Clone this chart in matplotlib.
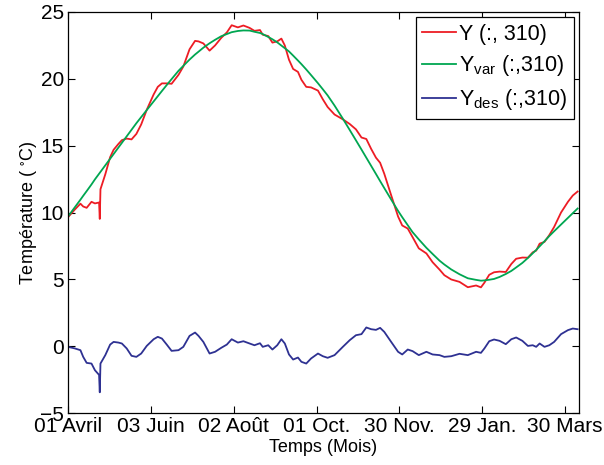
import matplotlib
matplotlib.use('Agg')
import matplotlib.pyplot as plt

plt.rcParams['font.family'] = ['Liberation Sans', 'DejaVu Sans']
plt.rcParams['mathtext.default'] = 'regular'

# Jour depuis le 01 Avril
days = [0, 5, 9, 11, 13.5, 17, 19.5, 22.5, 23, 23.5, 27, 30.5, 33, 36.5, 39, 42.5,
        46, 49.5, 53, 57, 62, 65, 68, 71.5, 75, 80, 83.5, 88, 92, 94.5, 98, 102.5,
        106.5, 111, 115, 118.5, 123, 127, 131.5, 135, 139, 141, 145, 148, 151.5,
        154.5, 157, 160, 163, 166.5, 169, 172.5, 176, 181, 184.5, 188, 193, 199,
        204, 208.5, 212.5, 216, 219.5, 223, 226, 229, 234, 239, 242, 246, 249.5,
        254, 259.5, 264, 269, 272.5, 277.5, 283.5, 289.5, 295.5, 299, 301.5, 305,
        308.5, 312.5, 317, 321, 324.5, 329, 333, 336.5, 339, 341.5, 345, 348.5,
        352, 357, 362, 365.5, 369]

# Y(:,310) mesure
y_obs = [9.65, 10.23, 10.66, 10.45, 10.35, 10.8, 10.68, 10.75, 9.52, 11.74, 12.86,
         14.14, 14.69, 15.13, 15.41, 15.53, 15.47, 15.88, 16.59, 17.68, 18.83, 19.4,
         19.66, 19.66, 19.63, 20.3, 20.92, 22.21, 22.84, 22.8, 22.65, 22.11, 22.5,
         23.07, 23.47, 24.01, 23.85, 23.99, 23.81, 23.59, 23.65, 23.3, 23.2, 22.71,
         22.8, 23.01, 22.49, 21.43, 20.74, 20.52, 19.93, 19.4, 19.36, 19.12, 18.47,
         17.89, 17.33, 16.97, 16.62, 16.22, 15.61, 15.5, 14.76, 14.1, 13.72, 12.9,
         11.29, 9.7, 9.03, 8.8, 8.16, 7.32, 6.94, 6.28, 5.73, 5.31, 4.99, 4.81, 4.41,
         4.54, 4.4, 4.75, 5.34, 5.53, 5.58, 5.55, 6.15, 6.54, 6.63, 6.62, 7.02, 7.15,
         7.67, 7.8, 8.31, 8.92, 10.0, 10.8, 11.27, 11.57]

# Y_var(:,310) composante saisonniere
y_var = [9.7, 10.4, 10.96, 11.25, 11.6, 12.1, 12.48, 12.9, 12.97, 13.04, 13.53,
         14.02, 14.37, 14.86, 15.21, 15.7, 16.19, 16.68, 17.14, 17.66, 18.31, 18.7,
         19.09, 19.54, 19.98, 20.6, 20.97, 21.44, 21.82, 22.03, 22.33, 22.66, 22.92,
         23.19, 23.35, 23.49, 23.58, 23.62, 23.61, 23.52, 23.43, 23.35, 23.13, 22.96,
         22.73, 22.49, 22.29, 22.05, 21.74, 21.37, 21.1, 20.7, 20.28, 19.67, 19.22,
         18.76, 18.0, 17.02, 16.17, 15.4, 14.71, 14.1, 13.49, 12.88, 12.35, 11.83,
         10.97, 10.12, 9.65, 9.05, 8.53, 7.99, 7.36, 6.9, 6.4, 6.11, 5.74, 5.38, 5.08,
         4.96, 4.9, 4.92, 4.97, 5.03, 5.18, 5.4, 5.63, 5.89, 6.23, 6.6, 6.95, 7.2,
         7.47, 7.85, 8.24, 8.6, 9.1, 9.6, 9.95, 10.3]

# Y_des(:,310) residu desaisonnalise
y_des = [-0.05, -0.17, -0.3, -0.8, -1.25, -1.3, -1.8, -2.15, -3.45, -1.3, -0.67,
         0.12, 0.32, 0.27, 0.2, -0.17, -0.72, -0.8, -0.55, 0.02, 0.52, 0.7, 0.57,
         0.12, -0.35, -0.3, -0.05, 0.77, 1.02, 0.77, 0.32, -0.55, -0.42, -0.12, 0.12,
         0.52, 0.27, 0.37, 0.2, 0.07, 0.22, -0.05, 0.07, -0.25, 0.07, 0.52, 0.2,
         -0.62, -1.0, -0.85, -1.17, -1.3, -0.92, -0.55, -0.75, -0.87, -0.67, -0.05,
         0.45, 0.82, 0.9, 1.4, 1.27, 1.22, 1.37, 1.07, 0.32, -0.42, -0.62, -0.25,
         -0.37, -0.67, -0.42, -0.62, -0.67, -0.8, -0.75, -0.57, -0.67, -0.42, -0.5,
         -0.17, 0.37, 0.5, 0.4, 0.15, 0.52, 0.65, 0.4, 0.02, 0.07, -0.05, 0.2, -0.05,
         0.07, 0.32, 0.9, 1.2, 1.32, 1.27]

tick_days = [0, 60, 120, 180, 240, 300, 360]
tick_labels = ['01 Avril', '03 Juin', '02 Août', '01 Oct.', '30 Nov.', '29 Jan.', '30 Mars']

fig = plt.figure(figsize=(6.04, 4.65), dpi=100)
ax = fig.add_axes([0.1126, 0.1118, 0.846, 0.8624])

ax.plot(days, y_obs, color='#ed1c24', lw=1.3, label='Y (:, 310)')
ax.plot(days, y_var, color='#00a651', lw=1.3, label='$Y_{var}$ (:,310)')
ax.plot(days, y_des, color='#2e3192', lw=1.3, label='$Y_{des}$ (:,310)')

ax.set_xlim(0, 370)
ax.set_ylim(-5, 25)
ax.set_yticks([-5, 0, 5, 10, 15, 20, 25])
ax.set_yticklabels(['\u22125', '0', '5', '10', '15', '20', '25'])
ax.set_xticks(tick_days)
ax.set_xticklabels(tick_labels)
ax.tick_params(direction='in', top=True, right=True, labelsize=15, length=5,
               width=0.8, pad=3)
ax.tick_params(axis='y', pad=3)
for s in ax.spines.values():
    s.set_linewidth(0.9)

ax.set_xlabel('Temps (Mois)', fontsize=13, labelpad=2)
ax.set_ylabel('Température ( $^{\\circ}$C)', fontsize=13, labelpad=1)

leg = ax.legend(loc='upper right', fontsize=15.5, handlelength=1.55, handletextpad=0.15,
                borderpad=0.3, labelspacing=0.4, fancybox=False,
                borderaxespad=0.25)
leg.get_frame().set_edgecolor('black')
leg.get_frame().set_linewidth(0.9)
leg.get_frame().set_alpha(1)

fig.savefig('out.png', dpi=100)
